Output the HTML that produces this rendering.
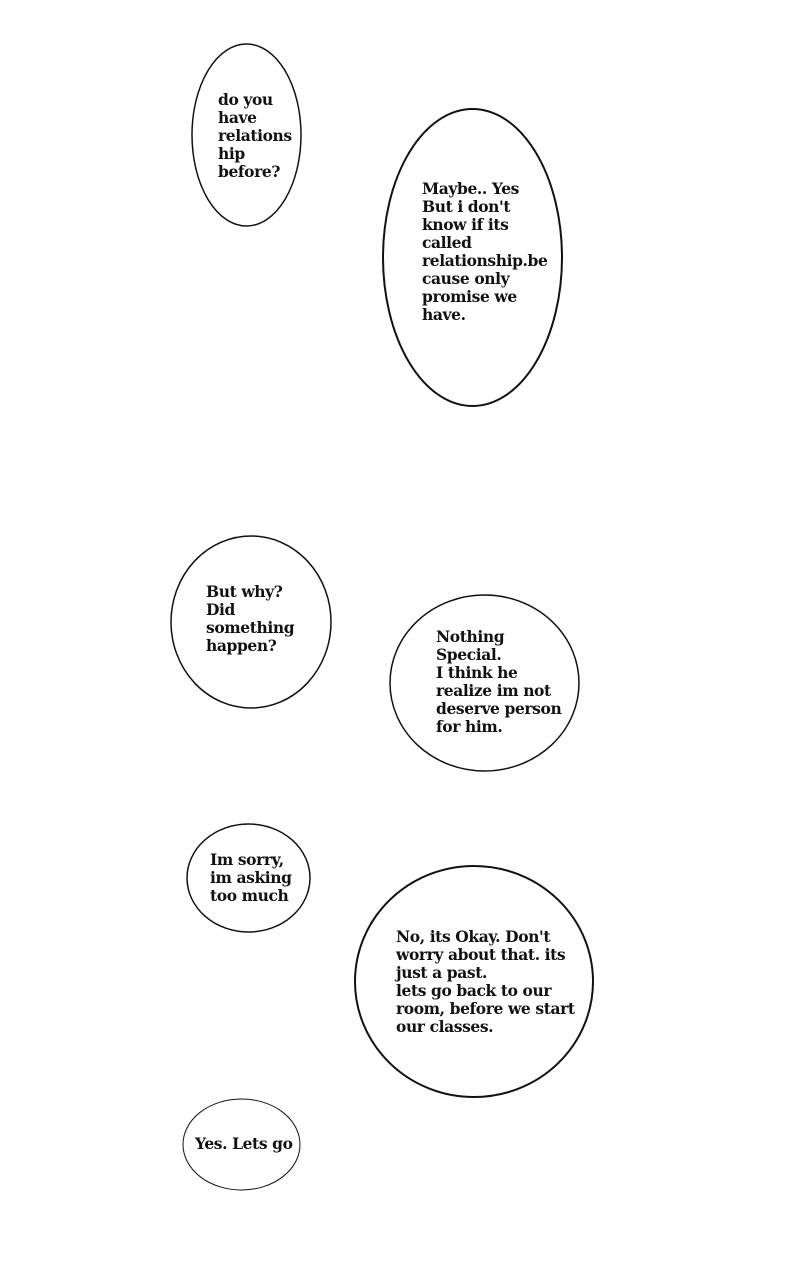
<!DOCTYPE html>
<html><head><meta charset="utf-8"><style>
html,body{margin:0;padding:0;background:#fff;}
body{width:800px;height:1280px;position:relative;overflow:hidden;}
svg{position:absolute;left:0;top:0;}
.t{position:absolute;font-family:"DejaVu Serif",serif;font-weight:bold;font-size:15.5px;line-height:18px;color:#111;white-space:pre;letter-spacing:-0.4px;}
</style></head><body>
<svg width="800" height="1280" viewBox="0 0 800 1280">
<g fill="#fff" stroke="#111" stroke-width="1.5">
<ellipse cx="246.5" cy="135" rx="54.5" ry="91"/>
<ellipse cx="472.5" cy="257.5" rx="89.5" ry="148.5" stroke-width="2"/>
<ellipse cx="251" cy="622" rx="80" ry="86"/>
<ellipse cx="484.5" cy="683" rx="94.5" ry="88"/>
<ellipse cx="248.5" cy="878" rx="61.5" ry="54"/>
<ellipse cx="474" cy="981.5" rx="119" ry="115.5" stroke-width="2"/>
<ellipse cx="241.5" cy="1144.5" rx="58.5" ry="45.5" stroke-width="1"/>
</g>
</svg>
<div class="t" style="left:218px;top:91px;">do you
have
relations
hip
before?</div>
<div class="t" style="left:422px;top:180px;">Maybe.. Yes
But i don't
know if its
called
relationship.be
cause only
promise we
have.</div>
<div class="t" style="left:206px;top:583px;">But why?
Did
something
happen?</div>
<div class="t" style="left:436px;top:628px;">Nothing
Special.
I think he
realize im not
deserve person
for him.</div>
<div class="t" style="left:210px;top:851px;">Im sorry,
im asking
too much</div>
<div class="t" style="left:396px;top:928px;">No, its Okay. Don't
worry about that. its
just a past.
lets go back to our
room, before we start
our classes.</div>
<div class="t" style="left:195px;top:1135px;">Yes. Lets go</div>
</body></html>
